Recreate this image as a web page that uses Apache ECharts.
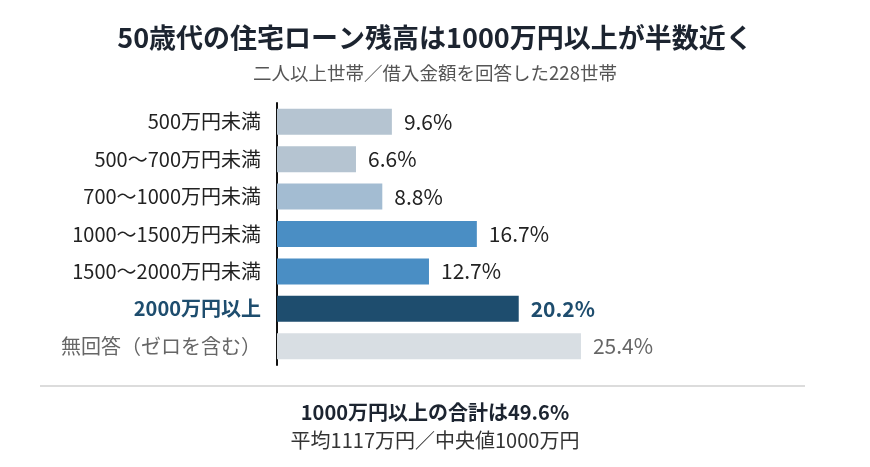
<!DOCTYPE html>
<html>
<head>
<meta charset="utf-8">
<script src="https://cdn.jsdelivr.net/npm/echarts@6/dist/echarts.min.js"></script>
<style>
  html, body { margin: 0; padding: 0; background: #fff; }
  #chart { width: 870px; height: 467px; }
</style>
</head>
<body>
<div id="chart"></div>
<script>
var FONT = '"Noto Sans CJK JP", "Noto Sans", sans-serif';

// データ
var categories = ['500万円未満', '500～700万円未満', '700～1000万円未満', '1000～1500万円未満',
    '1500～2000万円未満', '2000万円以上', '無回答（ゼロを含む）'];
var values = [9.6, 6.6, 8.8, 16.7, 12.7, 20.2, 25.4];
var barColors = ['#b5c4d1', '#b5c4d1', '#a3bcd2', '#4a8ec4', '#4a8ec4', '#1e4d6e', '#d8dee3'];
var titleText = '50歳代の住宅ローン残高は1000万円以上が半数近く';
var subText = '二人以上世帯／借入金額を回答した228世帯';
var noteBold = '1000万円以上の合計は49.6%';
var noteText = '平均1117万円／中央値1000万円';

var myChart = echarts.init(document.getElementById('chart'));

var option = {
    backgroundColor: '#fff',
    animation: false,
    title: [
        {
            text: titleText, left: 'center', top: 19,
            textStyle: {fontFamily: FONT, fontSize: 27, fontWeight: 'bold', color: '#1c2430'}
        },
        {
            text: subText, left: 'center', top: 59,
            textStyle: {fontFamily: FONT, fontSize: 18.5, fontWeight: 'normal', color: '#555'}
        },
        {
            text: noteBold, left: 'center', top: 397,
            textStyle: {fontFamily: FONT, fontSize: 20, fontWeight: 'bold', color: '#1c2430'}
        },
        {
            text: noteText, left: 'center', top: 425,
            textStyle: {fontFamily: FONT, fontSize: 20, fontWeight: 'normal', color: '#333'}
        }
    ],
    graphic: [{
        type: 'line',
        shape: {x1: 40, y1: 386, x2: 805, y2: 386},
        style: {stroke: '#dcdcdc', lineWidth: 2}
    }],
    grid: {left: 277, top: 103, width: 359, height: 262, containLabel: false},
    xAxis: {
        type: 'value', min: 0, max: 30,
        show: false
    },
    yAxis: {
        type: 'category',
        data: categories,
        inverse: true,
        axisLine: {show: true, lineStyle: {color: '#111', width: 2}},
        axisTick: {show: false},
        axisLabel: {
            margin: 16,
            fontFamily: FONT,
            fontSize: 20,
            color: '#222',
            formatter: function (v, i) {
                if (i === 5) return '{hl|' + v + '}';
                if (i === 6) return '{na|' + v + '}';
                return v;
            },
            rich: {
                hl: {fontFamily: FONT, fontSize: 20, fontWeight: 'bold', color: '#1e4d6e'},
                na: {fontFamily: FONT, fontSize: 20, color: '#666'}
            }
        }
    },
    series: [{
        type: 'bar',
        barWidth: 26,
        data: values.map(function (v, i) {
            var lab = {};
            if (i === 5) lab = {color: '#1e4d6e', fontWeight: 'bold'};
            if (i === 6) lab = {color: '#666'};
            return {value: v, itemStyle: {color: barColors[i]}, label: lab};
        }),
        label: {
            show: true,
            position: 'right',
            distance: 12,
            fontFamily: FONT,
            fontSize: 21,
            color: '#222',
            formatter: function (p) {
                return p.value.toFixed(1) + '%';
            }
        }
    }]
};
myChart.setOption(option);
</script>
</body>
</html>
